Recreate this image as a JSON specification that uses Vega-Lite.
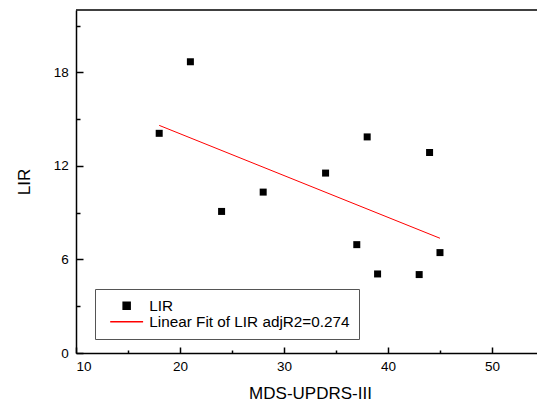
{
  "$schema": "https://vega.github.io/schema/vega-lite/v6.json",
  "autosize": {"type": "none"},
  "padding": {"left": 76, "top": 10, "right": 0, "bottom": 48},
  "width": 461,
  "height": 343,
  "background": "white",
  "config": {
    "font": "Liberation Sans",
    "view": {"stroke": null},
    "axis": {
      "domainColor": "black",
      "domainWidth": 1.5,
      "tickColor": "black",
      "tickWidth": 1.5,
      "grid": false,
      "labelFont": "Liberation Sans",
      "labelFontSize": 13.5,
      "labelColor": "black",
      "titleFont": "Liberation Sans",
      "titleFontSize": 17,
      "titleFontWeight": "normal",
      "titleColor": "black"
    }
  },
  "datasets": {
    "pts": [
      {"x": 18, "y": 14.09, "series": "LIR"},
      {"x": 21, "y": 18.68, "series": "LIR"},
      {"x": 24, "y": 9.08, "series": "LIR"},
      {"x": 28, "y": 10.32, "series": "LIR"},
      {"x": 34, "y": 11.54, "series": "LIR"},
      {"x": 37, "y": 6.95, "series": "LIR"},
      {"x": 38, "y": 13.86, "series": "LIR"},
      {"x": 39, "y": 5.07, "series": "LIR"},
      {"x": 43, "y": 5.03, "series": "LIR"},
      {"x": 44, "y": 12.86, "series": "LIR"},
      {"x": 45, "y": 6.44, "series": "LIR"}
    ],
    "fit": [
      {"x": 18, "y": 14.6, "series": "Linear Fit of LIR adjR2=0.274"},
      {"x": 45, "y": 7.36, "series": "Linear Fit of LIR adjR2=0.274"}
    ]
  },
  "layer": [
    {
      "data": {"name": "fit"},
      "mark": {"type": "line", "strokeWidth": 1},
      "encoding": {
        "x": {
          "field": "x", "type": "quantitative",
          "scale": {"domain": [10, 54.33], "nice": false, "zero": false},
          "axis": {
            "title": "MDS-UPDRS-III",
            "values": [10, 15, 20, 25, 30, 35, 40, 45, 50],
            "labelExpr": "datum.value % 10 === 0 ? datum.label : ''",
            "tickSize": {"condition": {"test": "datum.value % 10 === 0", "value": -6}, "value": -3},
            "labelPadding": 12,
            "titleX": 234,
            "titleY": 45,
            "titleBaseline": "alphabetic",
            "titleAlign": "center",
            "titleAnchor": null
          }
        },
        "y": {
          "field": "y", "type": "quantitative",
          "scale": {"domain": [0, 22], "nice": false, "zero": false},
          "axis": {
            "title": "LIR",
            "values": [0, 3, 6, 9, 12, 15, 18, 21],
            "labelExpr": "datum.value % 6 === 0 ? datum.label : ''",
            "tickSize": {"condition": {"test": "datum.value % 6 === 0", "value": -7}, "value": -4},
            "labelPadding": 14.7,
            "titleX": -46.5,
            "titleY": 171.5,
            "titleBaseline": "alphabetic",
            "titleAlign": "center",
            "titleAnchor": null
          }
        },
        "color": {
          "field": "series", "type": "nominal",
          "scale": {"domain": ["LIR", "Linear Fit of LIR adjR2=0.274"], "range": ["black", "red"]},
          "legend": {
            "title": null,
            "orient": "none",
            "legendX": 19,
            "legendY": 279,
            "strokeColor": "#555",
            "padding": 9,
            "rowPadding": 0,
            "symbolSize": 49,
            "symbolOffset": 15,
            "labelOffset": 15,
            "labelLimit": 0,
            "labelFont": "Liberation Sans",
            "labelFontSize": 15.3,
            "labelColor": "black",
            "encode": {
              "symbols": {
                "update": {
                  "shape": {"signal": "datum.value === 'LIR' ? 'square' : 'M-4.7,0H4.7'"},
                  "size": {"value": 49},
                  "fill": {"signal": "datum.value === 'LIR' ? 'black' : 'transparent'"},
                  "stroke": {"signal": "datum.value === 'LIR' ? 'black' : 'red'"},
                  "opacity": {"value": 1}
                }
              }
            }
          }
        }
      }
    },
    {
      "data": {"name": "pts"},
      "mark": {"type": "square", "size": 49, "opacity": 1},
      "encoding": {
        "x": {"field": "x", "type": "quantitative"},
        "y": {"field": "y", "type": "quantitative"},
        "color": {"field": "series", "type": "nominal"}
      }
    },
    {
      "data": {"values": [{}]},
      "mark": {"type": "rule", "color": "black", "strokeWidth": 1.5},
      "encoding": {"y": {"datum": 22}}
    }
  ]
}
